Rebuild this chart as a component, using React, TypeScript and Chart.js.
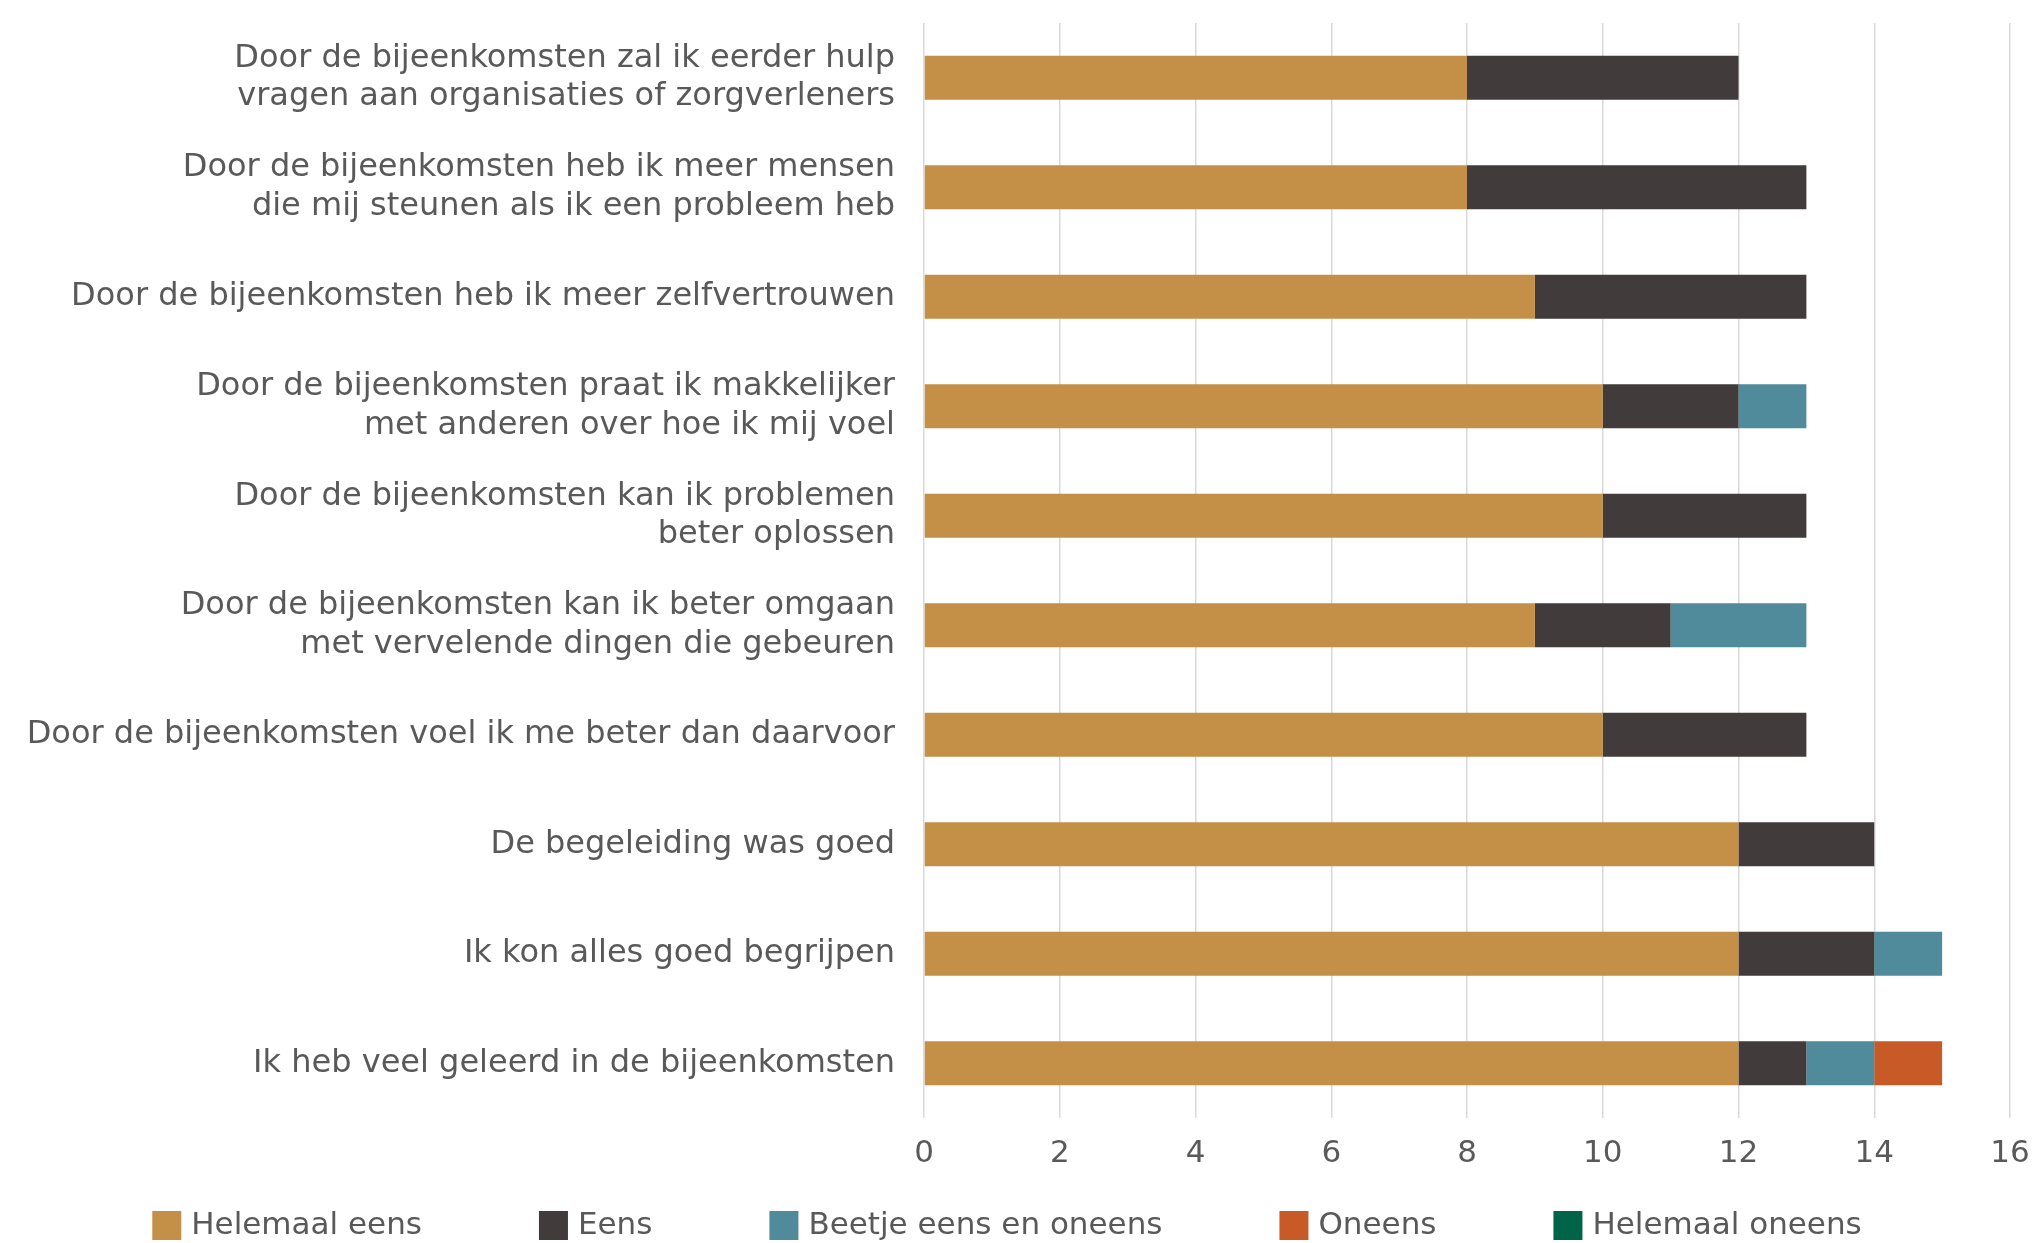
import React, { useEffect, useRef } from "react";
import { Chart, registerables } from "chart.js";

Chart.register(...registerables);

const categories: string[][] = [
  ["Door de bijeenkomsten zal ik eerder hulp", "vragen aan organisaties of zorgverleners"],
  ["Door de bijeenkomsten heb ik meer mensen", "die mij steunen als ik een probleem heb"],
  ["Door de bijeenkomsten heb ik meer zelfvertrouwen"],
  ["Door de bijeenkomsten praat ik makkelijker", "met anderen over hoe ik mij voel"],
  ["Door de bijeenkomsten kan ik problemen", "beter oplossen"],
  ["Door de bijeenkomsten kan ik beter omgaan", "met vervelende dingen die gebeuren"],
  ["Door de bijeenkomsten voel ik me beter dan daarvoor"],
  ["De begeleiding was goed"],
  ["Ik kon alles goed begrijpen"],
  ["Ik heb veel geleerd in de bijeenkomsten"],
];

const helemaalEens = [8, 8, 9, 10, 10, 9, 10, 12, 12, 12];
const eens = [4, 5, 4, 2, 3, 2, 3, 2, 2, 1];
const beetjeEens = [0, 0, 0, 1, 0, 2, 0, 0, 1, 1];
const oneens = [0, 0, 0, 0, 0, 0, 0, 0, 0, 1];
const helemaalOneens = [0, 0, 0, 0, 0, 0, 0, 0, 0, 0];

const seriesNames = ["Helemaal eens", "Eens", "Beetje eens en oneens", "Oneens", "Helemaal oneens"];
const seriesColors = ["#C48F47", "#413B3B", "#4F8B9B", "#C85A27", "#006548"];
const seriesValues = [helemaalEens, eens, beetjeEens, oneens, helemaalOneens];

const xMin = 0;
const xMax = 16;
const xStep = 2;

const FONT = "'DejaVu Sans', Verdana, sans-serif";
const TEXT = "#595959";

const bottomLegend = {
  id: "bottomLegend",
  afterDraw(chart: any) {
    const ctx = chart.ctx as CanvasRenderingContext2D;
    ctx.save();
    ctx.font = `31px ${FONT}`;
    const box = 29;
    const gapText = 10;
    const gapItem = 117;
    const items = chart.data.datasets.map((ds: any) => ({
      label: ds.label as string,
      color: ds.backgroundColor as string,
      w: box + gapText + ctx.measureText(ds.label).width,
    }));
    const total = items.reduce((a: number, b: any) => a + b.w, 0) + gapItem * (items.length - 1);
    let x = chart.width / 2 - 10 - total / 2;
    const yMid = chart.height - 17.5;
    ctx.textBaseline = "middle";
    ctx.textAlign = "left";
    for (const it of items) {
      ctx.fillStyle = it.color;
      ctx.fillRect(x, yMid - box / 2, box, box);
      ctx.fillStyle = TEXT;
      ctx.fillText(it.label, x + box + gapText, yMid);
      x += it.w + gapItem;
    }
    ctx.restore();
  },
};

export default function App() {
  const ref = useRef<HTMLCanvasElement | null>(null);

  useEffect(() => {
    if (!ref.current) return;
    const chart = new Chart(ref.current, {
      type: "bar",
      data: {
        labels: categories,
        datasets: seriesNames.map((name, i) => ({
          label: name,
          data: seriesValues[i],
          backgroundColor: seriesColors[i],
          borderWidth: 0,
          barPercentage: 0.403,
          categoryPercentage: 1,
        })),
      },
      options: {
        indexAxis: "y",
        animation: false,
        responsive: true,
        maintainAspectRatio: false,
        layout: { padding: { left: 0, right: 24, top: 23, bottom: 55 } },
        plugins: {
          legend: { display: false },
          tooltip: { enabled: false },
          title: { display: false },
        },
        scales: {
          x: {
            stacked: true,
            min: xMin,
            max: xMax,
            ticks: {
              stepSize: xStep,
              color: TEXT,
              font: { family: FONT, size: 31 },
              padding: 17,
              maxRotation: 0,
            },
            grid: { color: "#D9D9D9", lineWidth: 1.5, drawTicks: false },
            border: { display: false },
            afterFit: (scale: any) => {
              scale.height = 70;
              scale.paddingLeft = 0;
              scale.paddingRight = 0;
            },
          },
          y: {
            stacked: true,
            ticks: {
              color: TEXT,
              font: { family: FONT, size: 32, lineHeight: 1.2 },
              padding: 29,
              autoSkip: false,
            },
            grid: { display: false, drawTicks: false },
            border: { display: false },
            afterFit: (scale: any) => {
              scale.width = 924;
              scale.paddingTop = 0;
              scale.paddingBottom = 0;
            },
          },
        },
      },
      plugins: [bottomLegend],
    });
    return () => chart.destroy();
  }, []);

  return (
    <div style={{ position: "absolute", left: 0, top: 0, width: 2034, height: 1243, background: "#fff" }}>
      <canvas ref={ref} />
    </div>
  );
}
